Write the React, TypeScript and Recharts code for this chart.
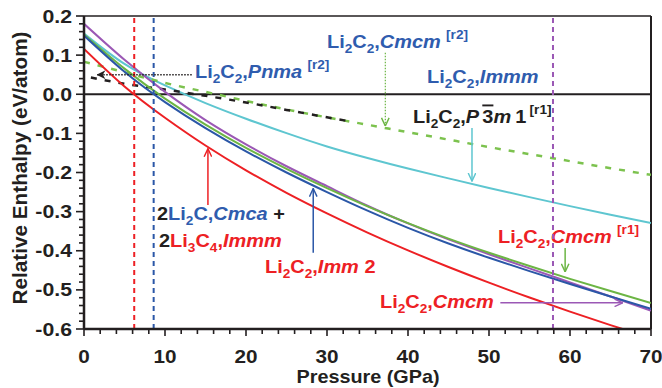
import React from 'react';
import { LineChart, Line, XAxis, YAxis, ReferenceLine, Customized } from 'recharts';

// ---- data (Pressure in GPa, relative enthalpy in eV/atom) ----
const pressure = [0, 5, 10, 15, 20, 25, 30, 35, 40, 45, 50, 55, 60, 65, 70];
const mixCmcaImmm = [0.116, 0.020, -0.060, -0.131, -0.1945, -0.252, -0.3045, -0.3535, -0.399, -0.4415, -0.4815, -0.5195, -0.5555, -0.590, -0.623];
const imm2 = [0.150, 0.0575, -0.020, -0.0865, -0.146, -0.200, -0.250, -0.2975, -0.3415, -0.3815, -0.418, -0.452, -0.485, -0.517, -0.5485];
const cmcmR1 = [0.153, 0.0655, -0.011, -0.0775, -0.137, -0.1905, -0.240, -0.2865, -0.3295, -0.369, -0.405, -0.439, -0.472, -0.503, -0.5335];
const cmcm = [0.180, 0.088, 0.006, -0.066, -0.128, -0.184, -0.235, -0.285, -0.330, -0.371, -0.409, -0.445, -0.481, -0.517, -0.553];
const p3m1R1 = [0.155, 0.0775, 0.0225, -0.0225, -0.0625, -0.0995, -0.1335, -0.163, -0.190, -0.215, -0.2395, -0.263, -0.286, -0.308, -0.329];
const cmcmR2 = [0.083, 0.056, 0.029, 0.006, -0.017, -0.039, -0.059, -0.078, -0.097, -0.116, -0.135, -0.153, -0.171, -0.189, -0.206];
const pnmaPressure = [0, 5, 10, 15, 20, 25, 30, 33];
const pnmaR2 = [0.046, 0.027, 0.012, -0.004, -0.021, -0.040, -0.059, -0.070];

const transitionMix = 6.2;
const transitionImm2 = 8.6;
const transitionCmcm = 57.9;

const xMajorTicks = [0, 10, 20, 30, 40, 50, 60, 70];
const yMajorTicks = [-0.6, -0.5, -0.4, -0.3, -0.2, -0.1, 0, 0.1, 0.2];

const xTicks: number[] = [];
for (let v = 0; v <= 70; v += 2) xTicks.push(v);
const yTicks: number[] = [];
for (let i = 0; i <= 40; i++) yTicks.push(Math.round((-0.6 + i * 0.02) * 1000) / 1000);

const data = pressure.map((p, i) => ({
  p,
  mix: mixCmcaImmm[i],
  imm2: imm2[i],
  cmcmR1: cmcmR1[i],
  cmcm: cmcm[i],
  p3m1: p3m1R1[i],
  cmcmR2: cmcmR2[i],
}));
const pnmaData = pnmaPressure.map((p, i) => ({ p, v: pnmaR2[i] }));

// ---- colours ----
const RED = '#ed2024';
const BLUE = '#2b57a7';
const BLUE_T = '#2f5cae';
const GREEN = '#6cb544';
const GREEN_D = '#7cc24e';
const PURPLE = '#9b58b5';
const CYAN = '#5ec6d0';
const INK = '#231f20';

const FONT = 'Liberation Sans, Arial, Helvetica, sans-serif';

// ---- annotation arrows (data coordinates) ----
const arrows = [
  { from: { x: 15.3, y: -0.283 }, to: { x: 15.3, y: -0.139 }, c: RED, m: 'aRed', dash: undefined, w: 1.5 },
  { from: { x: 28.3, y: -0.405 }, to: { x: 28.3, y: -0.241 }, c: BLUE, m: 'aBlue', dash: undefined, w: 1.5 },
  { from: { x: 59.4, y: -0.393 }, to: { x: 59.4, y: -0.454 }, c: GREEN, m: 'aGreen', dash: undefined, w: 1.5 },
  { from: { x: 47.9, y: -0.086 }, to: { x: 47.9, y: -0.222 }, c: CYAN, m: 'aCyan', dash: undefined, w: 1.5 },
  { from: { x: 37.2, y: 0.106 }, to: { x: 37.2, y: -0.081 }, c: GREEN, m: 'aGreen', dash: '1.5 1.5', w: 1.2 },
  { from: { x: 13.3, y: 0.05 }, to: { x: 1.6, y: 0.05 }, c: INK, m: 'aBlack', dash: '1.5 1.5', w: 1.4 },
  { from: { x: 51.4, y: -0.533 }, to: { x: 66.5, y: -0.533 }, c: PURPLE, m: 'aPurple', dash: undefined, w: 1.5 },
];

type Seg = { t: string; k?: 'sub' | 'sup'; it?: boolean; c?: string; over?: boolean; dx?: number };

function Chem({ x, y, segs, color, size = 19 }: { x: number; y: number; segs: Seg[]; color: string; size?: number }) {
  let cur = 0;
  return (
    <text
      transform={`translate(${x},${y}) scale(1.05,1)`}
      fill={color}
      fontSize={size}
      fontFamily={FONT}
      fontWeight={700}
    >
      {segs.map((s, i) => {
        const off = s.k === 'sub' ? 5 : s.k === 'sup' ? -9 : 0;
        const dy = off - cur;
        cur = off;
        return (
          <tspan
            key={i}
            dy={dy}
            dx={s.dx}
            fontSize={s.k ? Math.round(size * 0.68) : undefined}
            fontStyle={s.it ? 'italic' : undefined}
            fill={s.c}
            style={s.over ? { textDecoration: 'overline' } : undefined}
          >
            {s.t}
          </tspan>
        );
      })}
    </text>
  );
}

const li2c2 = (rest: Seg[]): Seg[] => [
  { t: 'Li' }, { t: '2', k: 'sub' }, { t: 'C' }, { t: '2', k: 'sub' }, { t: ',' }, ...rest,
];

function marker(id: string, color: string, filled = false) {
  return (
    <marker
      key={id}
      id={id}
      viewBox="0 0 10 10"
      refX={9.5}
      refY={5}
      markerWidth={9}
      markerHeight={9}
      markerUnits="userSpaceOnUse"
      orient="auto"
    >
      {filled ? (
        <path d="M0,0 L10,5 L0,10 L3,5 Z" fill={color} />
      ) : (
        <path d="M0.5,0.8 L9.5,5 L0.5,9.2" fill="none" stroke={color} strokeWidth={1.6} />
      )}
    </marker>
  );
}

function Annotations() {
  return (
    <g>
      <defs>
        {marker('aRed', RED)}
        {marker('aBlue', BLUE)}
        {marker('aGreen', GREEN)}
        {marker('aCyan', CYAN)}
        {marker('aPurple', PURPLE)}
        {marker('aBlack', INK, true)}
      </defs>
      <Chem x={327} y={48} color={BLUE_T} segs={li2c2([{ t: 'Cmcm', it: true }, { t: '[r2]', k: 'sup', dx: 5 }])} />
      <Chem x={427} y={83} color={BLUE_T} segs={li2c2([{ t: 'Immm', it: true }])} />
      <Chem
        x={413}
        y={123}
        color={INK}
        segs={li2c2([
          { t: 'P', it: true },
          { t: '3', over: true, dx: 3 },
          { t: 'm', it: true },
          { t: '1', dx: 4 },
          { t: '[r1]', k: 'sup', dx: 3 },
        ])}
      />
      <Chem x={195} y={78} color={BLUE_T} segs={li2c2([{ t: 'Pnma', it: true }, { t: '[r2]', k: 'sup', dx: 5 }])} />
      <Chem
        x={157}
        y={220}
        color={BLUE_T}
        segs={[
          { t: '2', c: INK },
          { t: 'Li' },
          { t: '2', k: 'sub' },
          { t: 'C,' },
          { t: 'Cmca', it: true },
          { t: '  +', c: INK },
        ]}
      />
      <Chem
        x={159}
        y={247}
        color={RED}
        segs={[
          { t: '2', c: INK },
          { t: 'Li' },
          { t: '3', k: 'sub' },
          { t: 'C' },
          { t: '4', k: 'sub' },
          { t: ',' },
          { t: 'Immm', it: true },
        ]}
      />
      <Chem x={265} y={273} color={RED} segs={li2c2([{ t: 'Imm', it: true }, { t: ' 2' }])} />
      <Chem x={498} y={243} color={RED} segs={li2c2([{ t: 'Cmcm', it: true }, { t: '[r1]', k: 'sup', dx: 5 }])} />
      <Chem x={380} y={308} color={RED} segs={li2c2([{ t: 'Cmcm', it: true }])} />

      <text
        transform="translate(27,168) rotate(-90)"
        textAnchor="middle"
        fontFamily={FONT}
        fontWeight={700}
        fontSize={19.5}
        fill={INK}
        textLength={273}
        lengthAdjust="spacingAndGlyphs"
      >
        Relative Enthalpy (eV/atom)
      </text>
      <text
        x={368}
        y={383}
        textAnchor="middle"
        fontFamily={FONT}
        fontWeight={700}
        fontSize={19}
        fill={INK}
        textLength={143}
        lengthAdjust="spacingAndGlyphs"
      >
        Pressure (GPa)
      </text>
    </g>
  );
}

function XTick(props: any) {
  const { x, y, payload } = props;
  const v = payload.value;
  const major = xMajorTicks.some((m) => Math.abs(m - v) < 1e-6);
  return (
    <g>
      <line x1={x} x2={x} y1={y} y2={y + (major ? 7 : 5)} stroke={INK} strokeWidth={1.6} />
      {major && (
        <text
          transform={`translate(${x},${y + 34}) scale(1.12,1)`}
          textAnchor="middle"
          fontFamily={FONT}
          fontWeight={700}
          fontSize={18.5}
          fill={INK}
        >
          {v}
        </text>
      )}
    </g>
  );
}

function YTick(props: any) {
  const { x, y, payload } = props;
  const v = payload.value;
  const major = yMajorTicks.some((m) => Math.abs(m - v) < 1e-6);
  return (
    <g>
      <line x1={x - (major ? 8 : 5)} x2={x} y1={y} y2={y} stroke={INK} strokeWidth={1.6} />
      {major && (
        <text
          transform={`translate(${x - 12},${y + 6.5}) scale(1.15,1)`}
          textAnchor="end"
          fontFamily={FONT}
          fontWeight={700}
          fontSize={18.5}
          fill={INK}
        >
          {v.toFixed(1)}
        </text>
      )}
    </g>
  );
}

export default function App() {
  return (
    <div style={{ position: 'absolute', left: 0, top: 0, width: 662, height: 388, background: '#fff' }}>
      <LineChart
        width={662}
        height={388}
        data={data}
        margin={{ top: 16, right: 11, bottom: 19, left: 0 }}
        style={{ overflow: 'visible' }}
      >
        <XAxis
          dataKey="p"
          type="number"
          domain={[0, 70]}
          ticks={xTicks}
          interval={0}
          allowDataOverflow
          tickLine={false}
          tickSize={0}
          tickMargin={0}
          tick={<XTick />}
          axisLine={{ stroke: INK, strokeWidth: 2.5 }}
          height={40}
        />
        <YAxis
          type="number"
          domain={[-0.6, 0.2]}
          ticks={yTicks}
          interval={0}
          allowDataOverflow
          tickLine={false}
          tickSize={0}
          tickMargin={0}
          tick={<YTick />}
          axisLine={{ stroke: INK, strokeWidth: 2.5 }}
          width={84}
        />
        <ReferenceLine y={0.2} stroke={INK} strokeWidth={1.5} ifOverflow="visible" />
        <ReferenceLine x={70} stroke={INK} strokeWidth={2} ifOverflow="visible" />
        <ReferenceLine y={0} stroke={INK} strokeWidth={2} ifOverflow="visible" />

        <Line dataKey="p3m1" type="natural" stroke={CYAN} strokeWidth={2} dot={false} isAnimationActive={false} />
        <Line dataKey="cmcmR2" type="natural" stroke={GREEN_D} strokeWidth={2.5} strokeDasharray="6 8" dot={false} isAnimationActive={false} />
        <Line data={pnmaData} dataKey="v" type="natural" stroke={INK} strokeWidth={2.5} strokeDasharray="6 8" strokeDashoffset={7} dot={false} isAnimationActive={false} />
        <Line dataKey="cmcm" type="natural" stroke={PURPLE} strokeWidth={2} dot={false} isAnimationActive={false} />
        <Line dataKey="cmcmR1" type="natural" stroke={GREEN} strokeWidth={2} dot={false} isAnimationActive={false} />
        <Line dataKey="imm2" type="natural" stroke={BLUE} strokeWidth={2} dot={false} isAnimationActive={false} />
        <Line dataKey="mix" type="natural" stroke={RED} strokeWidth={2} dot={false} isAnimationActive={false} />

        <ReferenceLine x={transitionMix} stroke={RED} strokeWidth={2} strokeDasharray="5 4" ifOverflow="visible" />
        <ReferenceLine x={transitionImm2} stroke={BLUE} strokeWidth={2} strokeDasharray="5 4" ifOverflow="visible" />
        <ReferenceLine x={transitionCmcm} stroke={PURPLE} strokeWidth={2} strokeDasharray="5 4" ifOverflow="visible" />

        {arrows.map((a, i) => (
          <ReferenceLine
            key={i}
            segment={[a.from, a.to]}
            stroke={a.c}
            strokeWidth={a.w}
            strokeDasharray={a.dash}
            markerEnd={`url(#${a.m})`}
            ifOverflow="visible"
          />
        ))}
        <Customized component={Annotations} />
      </LineChart>
    </div>
  );
}
